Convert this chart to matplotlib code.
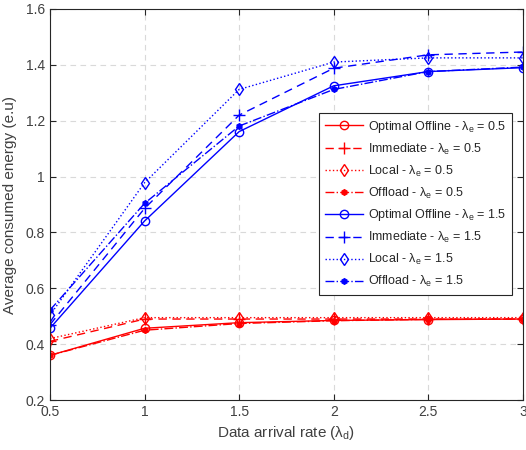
import matplotlib
matplotlib.use("Agg")
import matplotlib.pyplot as plt

plt.rcParams['font.family'] = ['Liberation Sans', 'DejaVu Sans']
plt.rcParams['mathtext.fontset'] = 'custom'
plt.rcParams['mathtext.rm'] = 'Liberation Sans'
plt.rcParams['mathtext.it'] = 'Liberation Sans'

x = [0.5, 1, 1.5, 2, 2.5, 3]

opt_05 = [0.36, 0.457, 0.477, 0.485, 0.488, 0.490]
imm_05 = [0.41, 0.490, 0.490, 0.490, 0.490, 0.490]
loc_05 = [0.42, 0.495, 0.495, 0.495, 0.495, 0.495]
off_05 = [0.36, 0.450, 0.474, 0.484, 0.489, 0.490]

opt_15 = [0.457, 0.841, 1.161, 1.325, 1.376, 1.390]
imm_15 = [0.470, 0.886, 1.220, 1.388, 1.436, 1.446]
loc_15 = [0.504, 0.978, 1.312, 1.410, 1.425, 1.425]
off_15 = [0.522, 0.904, 1.181, 1.312, 1.376, 1.392]

xticks = [0.5, 1, 1.5, 2, 2.5, 3]
yticks = [0.2, 0.4, 0.6, 0.8, 1.0, 1.2, 1.4, 1.6]
ytick_labels = ['0.2', '0.4', '0.6', '0.8', '1', '1.2', '1.4', '1.6']

red = '#ff0000'
blue = '#0000ff'

fig = plt.figure(figsize=(5.26, 4.5), dpi=100)
ax = fig.add_axes([0.095, 0.111, 0.899, 0.869])

lw = 1.0
ms = 6
series = [
    (opt_05, red, '-', 'o', 'Optimal Offline - $\\lambda_e$ = 0.5', 'none'),
    (imm_05, red, (0, (6, 4)), '+', 'Immediate - $\\lambda_e$ = 0.5', 'none'),
    (loc_05, red, ':', 'd', 'Local - $\\lambda_e$ = 0.5', 'none'),
    (off_05, red, '-.', 'h', 'Offload - $\\lambda_e$ = 0.5', red),
    (opt_15, blue, '-', 'o', 'Optimal Offline - $\\lambda_e$ = 1.5', 'none'),
    (imm_15, blue, (0, (6, 4)), '+', 'Immediate - $\\lambda_e$ = 1.5', 'none'),
    (loc_15, blue, ':', 'd', 'Local - $\\lambda_e$ = 1.5', 'none'),
    (off_15, blue, '-.', 'h', 'Offload - $\\lambda_e$ = 1.5', blue),
]
for ys, c, ls, mk, lab, mfc in series:
    m = ms if mk != 'h' else 4.0
    if mk == '+':
        m = 8
    ax.plot(x, ys, color=c, linestyle=ls, marker=mk, markersize=m,
            markerfacecolor=mfc, markeredgecolor=c, linewidth=lw,
            markeredgewidth=1.0, label=lab)

ax.set_xlim(0.5, 3)
ax.set_ylim(0.2, 1.6)
ax.set_xticks(xticks)
ax.set_xticklabels(['0.5', '1', '1.5', '2', '2.5', '3'])
ax.set_yticks(yticks)
ax.set_yticklabels(ytick_labels)
ax.tick_params(direction='in', top=True, right=True, labelsize=10, length=4,
               colors='#262626', labelcolor='#404040')
ax.grid(True, linestyle=(0, (5, 4)), color='#d9d9d9', linewidth=0.8)
for s in ax.spines.values():
    s.set_color('#262626')
    s.set_linewidth(0.8)

ax.set_xlabel('Data arrival rate ($\\lambda_d$)', fontsize=11, color='#404040', labelpad=4)
ax.set_ylabel('Average consumed energy (e.u)', fontsize=11, color='#404040', labelpad=6)

leg = ax.legend(loc='upper left', bbox_to_anchor=(0.569, 0.734), fontsize=9,
                handlelength=3.1, handletextpad=0.4, borderpad=0.45,
                labelspacing=0.55, fancybox=False, framealpha=1,
                edgecolor='#262626', borderaxespad=0)
leg.get_frame().set_linewidth(0.8)
for t in leg.get_texts():
    t.set_color('#262626')

fig.savefig('out.png', dpi=100)
